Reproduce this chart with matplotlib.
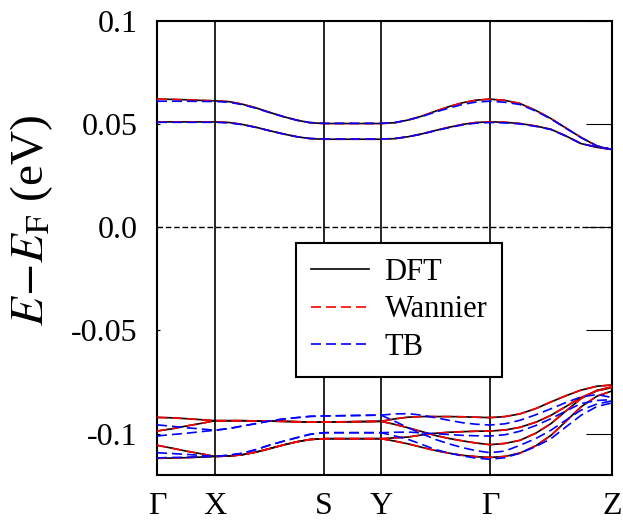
import matplotlib
matplotlib.use('Agg')
import matplotlib.pyplot as plt
from matplotlib.lines import Line2D

plt.rcParams['font.family'] = ['Liberation Serif', 'DejaVu Serif']
plt.rcParams['mathtext.fontset'] = 'stix'

# k-path (arbitrary units along the path) and high-symmetry points
k = [0, 15, 29, 44, 58,
     72, 85, 99, 112, 126, 140, 153, 167,
     195, 224,
     238, 251, 265, 278, 292, 306, 319, 333,
     348, 363, 379, 394, 409, 424, 440, 455]
kpts = [0, 58, 167, 224, 333, 455]
klabels = ['Γ', 'X', 'S', 'Y', 'Γ', 'Z']

# DFT bands (eV)
dft_c1 = [0.0620, 0.0619, 0.0617, 0.0614, 0.0612,
          0.0608, 0.0596, 0.0578, 0.0557, 0.0536, 0.0518, 0.0506, 0.0502,
          0.0502, 0.0502,
          0.0506, 0.0519, 0.0538, 0.0561, 0.0584, 0.0603, 0.0615, 0.0620,
          0.0614, 0.0599, 0.0565, 0.0526, 0.0480, 0.0435, 0.0393, 0.0376]
dft_c2 = [0.0510, 0.0510, 0.0510, 0.0510, 0.0510,
          0.0507, 0.0498, 0.0484, 0.0468, 0.0452, 0.0438, 0.0429, 0.0426,
          0.0426, 0.0426,
          0.0429, 0.0438, 0.0452, 0.0468, 0.0484, 0.0498, 0.0507, 0.0510,
          0.0508, 0.0502, 0.0490, 0.0474, 0.0442, 0.0405, 0.0387, 0.0376]
dft_v1 = [-0.0921, -0.0923, -0.0927, -0.0932, -0.0937,
          -0.0937, -0.0937, -0.0938, -0.0939, -0.0940, -0.0942, -0.0943, -0.0943,
          -0.0942, -0.0940,
          -0.0928, -0.0920, -0.0917, -0.0917, -0.0917, -0.0918, -0.0920, -0.0922,
          -0.0917, -0.0904, -0.0878, -0.0846, -0.0816, -0.0789, -0.0770, -0.0764]
dft_v2 = [-0.0987, -0.0976, -0.0963, -0.0950, -0.0937,
          -0.0937, -0.0937, -0.0938, -0.0939, -0.0940, -0.0942, -0.0943, -0.0943,
          -0.0942, -0.0940,
          -0.0955, -0.0971, -0.0990, -0.1008, -0.1023, -0.1035, -0.1045, -0.1053,
          -0.1047, -0.1032, -0.0997, -0.0951, -0.0890, -0.0830, -0.0790, -0.0773]
dft_v3 = [-0.1056, -0.1070, -0.1084, -0.1097, -0.1110,
          -0.1108, -0.1102, -0.1089, -0.1073, -0.1055, -0.1039, -0.1028, -0.1024,
          -0.1024, -0.1024,
          -0.1020, -0.1016, -0.1006, -0.0998, -0.0993, -0.0990, -0.0988, -0.0987,
          -0.0982, -0.0969, -0.0944, -0.0911, -0.0868, -0.0825, -0.0792, -0.0777]
dft_v4 = [-0.1119, -0.1118, -0.1116, -0.1113, -0.1110,
          -0.1108, -0.1102, -0.1089, -0.1073, -0.1055, -0.1039, -0.1028, -0.1024,
          -0.1024, -0.1024,
          -0.1036, -0.1049, -0.1066, -0.1081, -0.1094, -0.1105, -0.1111, -0.1115,
          -0.1110, -0.1094, -0.1058, -0.1008, -0.0940, -0.0870, -0.0818, -0.0793]

# Wannier bands: on top of DFT everywhere at this scale
wan_bands = [dft_c1, dft_c2, dft_v1, dft_v2, dft_v3, dft_v4]

# tight-binding bands
tb_c1 = [0.0610, 0.0610, 0.0610, 0.0609, 0.0609,
         0.0605, 0.0594, 0.0576, 0.0556, 0.0536, 0.0518, 0.0507, 0.0503,
         0.0503, 0.0503,
         0.0507, 0.0519, 0.0536, 0.0557, 0.0577, 0.0595, 0.0606, 0.0610,
         0.0605, 0.0594, 0.0562, 0.0524, 0.0479, 0.0434, 0.0394, 0.0377]
tb_c2 = [0.0508, 0.0508, 0.0508, 0.0508, 0.0508,
         0.0505, 0.0497, 0.0483, 0.0468, 0.0452, 0.0438, 0.0430, 0.0427,
         0.0427, 0.0427,
         0.0430, 0.0438, 0.0451, 0.0467, 0.0482, 0.0496, 0.0504, 0.0507,
         0.0505, 0.0500, 0.0488, 0.0473, 0.0441, 0.0405, 0.0388, 0.0377]
tb_v1 = [-0.0957, -0.0964, -0.0971, -0.0977, -0.0983,
         -0.0975, -0.0963, -0.0951, -0.0939, -0.0929, -0.0922, -0.0916, -0.0914,
         -0.0912, -0.0910,
         -0.0904, -0.0903, -0.0910, -0.0922, -0.0935, -0.0947, -0.0954, -0.0958,
         -0.0952, -0.0935, -0.0908, -0.0879, -0.0849, -0.0822, -0.0810, -0.0825]
tb_v2 = [-0.1011, -0.1004, -0.0998, -0.0990, -0.0983,
         -0.0975, -0.0963, -0.0951, -0.0939, -0.0929, -0.0922, -0.0916, -0.0914,
         -0.0912, -0.0910,
         -0.0940, -0.0971, -0.1000, -0.1027, -0.1049, -0.1068, -0.1082, -0.1092,
         -0.1084, -0.1056, -0.1023, -0.0983, -0.0934, -0.0886, -0.0856, -0.0841]
tb_v3 = [-0.1092, -0.1096, -0.1100, -0.1105, -0.1110,
         -0.1104, -0.1095, -0.1077, -0.1056, -0.1037, -0.1019, -0.1003, -0.0995,
         -0.0995, -0.0995,
         -0.0993, -0.0992, -0.0996, -0.1000, -0.1004, -0.1008, -0.1010, -0.1011,
         -0.1005, -0.0988, -0.0960, -0.0927, -0.0890, -0.0854, -0.0839, -0.0835]
tb_v4 = [-0.1117, -0.1115, -0.1114, -0.1112, -0.1110,
         -0.1104, -0.1095, -0.1077, -0.1056, -0.1037, -0.1019, -0.1003, -0.0995,
         -0.0995, -0.0995,
         -0.1011, -0.1027, -0.1052, -0.1076, -0.1094, -0.1108, -0.1118, -0.1124,
         -0.1116, -0.1094, -0.1062, -0.1024, -0.0967, -0.0911, -0.0868, -0.0851]

yticks = [-0.1, -0.05, 0.0, 0.05, 0.1]
yticklabels = ['-0.1', '-0.05', '0.0', '0.05', '0.1']

fig = plt.figure(figsize=(6.23, 5.2), dpi=100)
ax = fig.add_axes([0.252, 0.0865, 0.7303, 0.8737])

dft_bands = [dft_c1, dft_c2, dft_v1, dft_v2, dft_v3, dft_v4]
tb_bands = [tb_c1, tb_c2, tb_v1, tb_v2, tb_v3, tb_v4]

for b in dft_bands:
    ax.plot(k, b, color='black', lw=1.2, zorder=3)
for b in wan_bands:
    ax.plot(k, b, color='red', lw=1.2, dashes=(6, 3), zorder=4)
for b in tb_bands:
    ax.plot(k, b, color='blue', lw=1.2, dashes=(6, 3), zorder=5)

for x in kpts[1:-1]:
    ax.axvline(x, color='black', lw=1.2, zorder=2)
ax.axhline(0.0, color='black', lw=1.0, dashes=(4, 2), zorder=2)

ax.set_xlim(kpts[0], kpts[-1])
ax.set_ylim(-0.12, 0.1)
ax.set_xticks(kpts)
ax.set_xticklabels(klabels, fontsize=23)
ax.set_yticks(yticks)
ax.set_yticklabels(yticklabels, fontsize=23)
ax.tick_params(axis='x', length=0, pad=12)
ax.tick_params(axis='y', direction='in', length=2, pad=14, right=True)
# long inward ticks on the right side only
for t in ax.yaxis.get_ticklines()[1::2]:
    t.set_markersize(19)
for s in ax.spines.values():
    s.set_linewidth(1.5)

fig.text(0.05, 0.577, r'$E\!-\!E_\mathrm{F}$ (eV)', rotation=90,
         ha='center', va='center', fontsize=34)

handles = [Line2D([], [], color='black', lw=1.2),
           Line2D([], [], color='red', lw=1.2, dashes=(6, 3)),
           Line2D([], [], color='blue', lw=1.2, dashes=(6, 3))]
leg = ax.legend(handles, ['DFT', 'Wannier', 'TB'], loc='upper left',
                bbox_to_anchor=(0.305, 0.511), fontsize=22, frameon=True,
                fancybox=False, framealpha=1, edgecolor='black',
                handlelength=1.9, handletextpad=0.5, labelspacing=0.27,
                borderpad=0.5, borderaxespad=0)
leg.get_frame().set_linewidth(1.5)
leg.set_zorder(10)

fig.savefig('out.png', dpi=100)
